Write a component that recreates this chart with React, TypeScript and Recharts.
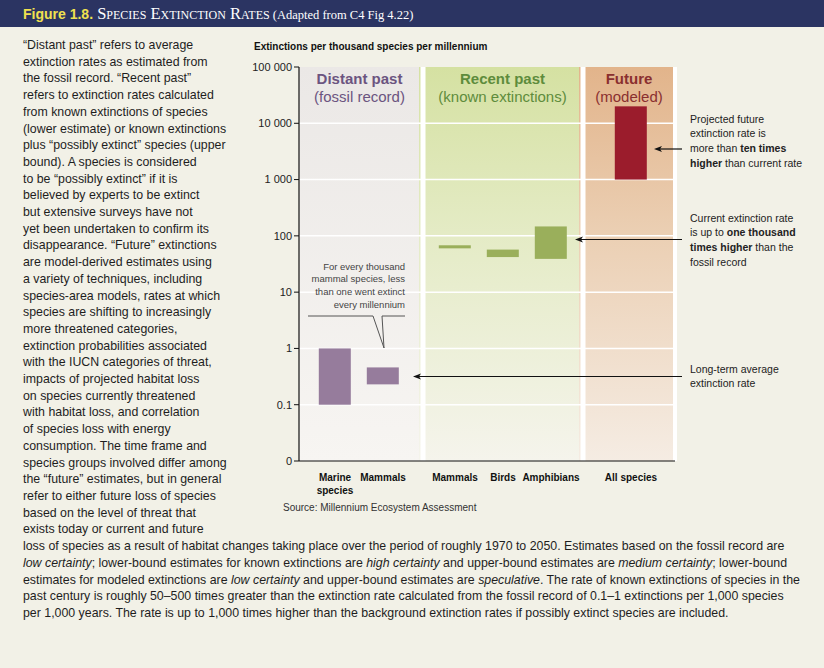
import React from 'react';
import { ComposedChart, Bar, Cell, XAxis, YAxis, ReferenceArea, ReferenceLine } from 'recharts';

// extinctions per thousand species per millennium, each bar spans [low, high]
const distantLabels = ['Marine\nspecies', 'Mammals'];
const distantLow = [0.1, 0.23];
const distantHigh = [1, 0.46];

const recentLabels = ['Mammals', 'Birds', 'Amphibians'];
const recentLow = [60, 42, 39];
const recentHigh = [68, 57, 147];

const futureLabels = ['All species'];
const futureLow = [1000];
const futureHigh = [20000];

const yTicks = [0.01, 0.1, 1, 10, 100, 1000, 10000, 100000];

const SANS = '"Liberation Sans", Arial, Helvetica, sans-serif';
const SERIF = '"Liberation Serif", "DejaVu Serif", serif';

const panels = [
  { key: 'distant', title: 'Distant past', sub: '(fossil record)', titleColor: '#6b5480', bar: '#967c9c', labels: distantLabels, low: distantLow, high: distantHigh },
  { key: 'recent', title: 'Recent past', sub: '(known extinctions)', titleColor: '#5e8c3c', bar: '#9aaf5b', labels: recentLabels, low: recentLow, high: recentHigh },
  { key: 'future', title: 'Future', sub: '(modeled)', titleColor: '#8a2f2f', bar: '#9b1c2c', labels: futureLabels, low: futureLow, high: futureHigh },
];

// each panel is cut in narrow category slots, bars sit in some of them, the rest are spacers
const panelSlots = [15, 20, 12];
const barSlots = [[4, 10], [4, 10, 16], [6]];

type Row = { id: string; label: string; range: number[] | null; fill: string };
const rows: Row[] = [];
const panelEnds: [string, string][] = [];
panels.forEach((p, pi) => {
  const start = rows.length;
  for (let s = 0; s < panelSlots[pi]; s++) {
    const bi = barSlots[pi].indexOf(s);
    rows.push({
      id: `${p.key}-${s}`,
      label: bi >= 0 ? p.labels[bi] : '',
      range: bi >= 0 ? [p.low[bi], p.high[bi]] : null,
      fill: p.bar,
    });
  }
  panelEnds.push([rows[start].id, rows[rows.length - 1].id]);
});

const fmtTick = (v: number) => (v < 0.1 ? '0' : String(v).replace(/\B(?=(\d{3})+(?!\d))/g, ' '));

const leftText = [
  '“Distant past” refers to average',
  'extinction rates as estimated from',
  'the fossil record. “Recent past”',
  'refers to extinction rates calculated',
  'from known extinctions of species',
  '(lower estimate) or known extinctions',
  'plus “possibly extinct” species (upper',
  'bound). A species is considered',
  'to be “possibly extinct” if it is',
  'believed by experts to be extinct',
  'but extensive surveys have not',
  'yet been undertaken to confirm its',
  'disappearance. “Future” extinctions',
  'are model-derived estimates using',
  'a variety of techniques, including',
  'species-area models, rates at which',
  'species are shifting to increasingly',
  'more threatened categories,',
  'extinction probabilities associated',
  'with the IUCN categories of threat,',
  'impacts of projected habitat loss',
  'on species currently threatened',
  'with habitat loss, and correlation',
  'of species loss with energy',
  'consumption. The time frame and',
  'species groups involved differ among',
  'the “future” estimates, but in general',
  'refer to either future loss of species',
  'based on the level of threat that',
  'exists today or current and future',
  'loss of species as a result of habitat changes taking place over the period of roughly 1970 to 2050. Estimates based on the fossil record are',
  '_low certainty_; lower-bound estimates for known extinctions are _high certainty_ and upper-bound estimates are _medium certainty_; lower-bound',
  'estimates for modeled extinctions are _low certainty_ and upper-bound estimates are _speculative_. The rate of known extinctions of species in the',
  'past century is roughly 50–500 times greater than the extinction rate calculated from the fossil record of 0.1–1 extinctions per 1,000 species',
  'per 1,000 years. The rate is up to 1,000 times higher than the background extinction rates if possibly extinct species are included.',
];

const notes = [
  { top: 111.5, lines: ['Projected future', 'extinction rate is', 'more than *ten times*', '*higher* than current rate'] },
  { top: 210.5, lines: ['Current extinction rate', 'is up to *one thousand*', '*times higher* than the', 'fossil record'] },
  { top: 361.5, lines: ['Long-term average', 'extinction rate'] },
];

const callout = ['For every thousand', 'mammal species, less', 'than one went extinct', 'every millennium'];

const marked = (line: string, mark: string, style: React.CSSProperties) =>
  line.split(mark).map((part, i) =>
    i % 2 ? <span key={i} style={style}>{part}</span> : <React.Fragment key={i}>{part}</React.Fragment>
  );

const PanelTitle = ({ viewBox, idx }: any) => {
  if (!viewBox) return null;
  const p = panels[idx];
  const left = viewBox.x + (idx > 0 ? 6 : 0);
  const right = viewBox.x + viewBox.width - (idx === panels.length - 1 ? 2 : -1);
  const cx = (left + right) / 2;
  return (
    <g fill={p.titleColor} fontFamily={SANS} fontSize={15} textAnchor="middle">
      <text x={cx} y={viewBox.y + 16.5} fontWeight="bold">{p.title}</text>
      <text x={cx} y={viewBox.y + 34.5}>{p.sub}</text>
    </g>
  );
};

const CategoryTick = ({ x, y, payload }: any) => {
  const row = rows.find((r) => r.id === payload.value);
  if (!row || !row.label) return null;
  return (
    <text x={x} y={y} textAnchor="middle" fontSize={10} fontWeight="bold" fill="#111" fontFamily={SANS}>
      {row.label.split('\n').map((w, i) => (
        <tspan key={i} x={x} dy={i === 0 ? 20 : 12.5}>{w}</tspan>
      ))}
    </text>
  );
};

const WideBar = (props: any) => {
  const { x, y, width, height, fill } = props;
  if (!height) return null;
  const top = Math.min(y, y + height);
  return <rect x={x + width / 2 - 16} y={top} width={32} height={Math.abs(height)} fill={fill} />;
};

const Arrow = ({ y, from, to }: { y: number; from: number; to: number }) => (
  <g>
    <line x1={from} y1={y} x2={to + 6} y2={y} stroke="#111" strokeWidth={1.2} />
    <path d={`M${to},${y} L${to + 8},${y - 3} L${to + 6},${y} L${to + 8},${y + 3} Z`} fill="#111" />
  </g>
);

export default function App() {
  return (
    <div style={{ position: 'absolute', left: 0, top: 0, width: 824, height: 668, background: '#f2f1e7', overflow: 'hidden', fontFamily: SANS }}>
      <div style={{ position: 'absolute', left: 0, top: 0, width: 824, height: 27, lineHeight: '27px', background: '#2b3462', paddingLeft: 23, whiteSpace: 'nowrap', boxSizing: 'border-box' }}>
        <span style={{ fontFamily: SANS, fontWeight: 'bold', fontSize: 14, color: '#f0e14f' }}>Figure 1.8.</span>
        <span style={{ fontFamily: SERIF, fontSize: 16.5, color: '#fff', fontVariant: 'small-caps' }}> Species Extinction Rates</span>
        <span style={{ fontFamily: SERIF, fontSize: 12.5, color: '#fff' }}> (Adapted from C4 Fig 4.22)</span>
      </div>

      <div style={{ position: 'absolute', left: 23, top: 37, fontFamily: SANS, fontSize: 13, lineHeight: '16.7px', color: '#1e1e1e', whiteSpace: 'pre', transform: 'scaleX(0.95)', transformOrigin: '0 0' }}>
        {leftText.map((l, i) => (
          <div key={i}>{marked(l, '_', { fontStyle: 'italic' })}</div>
        ))}
      </div>

      <div style={{ position: 'absolute', left: 254, top: 41, fontSize: 10, lineHeight: '12px', fontWeight: 'bold', color: '#111' }}>
        Extinctions per thousand species per millennium
      </div>

      <div style={{ position: 'absolute', left: 240, top: 0 }}>
        <ComposedChart width={450} height={520} data={rows} margin={{ top: 67, right: 15, bottom: 19, left: 0 }}>
          <defs>
            <linearGradient id="gDistant" x1="0" y1="0" x2="0" y2="1">
              <stop offset="0%" stopColor="#ebe8e6" />
              <stop offset="100%" stopColor="#f7f5f2" />
            </linearGradient>
            <linearGradient id="gRecent" x1="0" y1="0" x2="0" y2="1">
              <stop offset="0%" stopColor="#d5e1a2" />
              <stop offset="42%" stopColor="#e4ebc5" />
              <stop offset="100%" stopColor="#f5f4ec" />
            </linearGradient>
            <linearGradient id="gFuture" x1="0" y1="0" x2="0" y2="1">
              <stop offset="0%" stopColor="#e2b48b" />
              <stop offset="42%" stopColor="#ebcfb3" />
              <stop offset="100%" stopColor="#f5ece3" />
            </linearGradient>
          </defs>
          <XAxis
            dataKey="id"
            interval={0}
            height={40}
            tickLine={false}
            tickSize={0}
            tickMargin={0}
            axisLine={{ stroke: '#111', strokeWidth: 1.2 }}
            tick={(p: any) => <CategoryTick {...p} />}
          />
          <YAxis
            scale="log"
            domain={[0.01, 100000]}
            ticks={yTicks}
            allowDataOverflow
            width={59}
            tickSize={5}
            tickFormatter={fmtTick}
            axisLine={{ stroke: '#111', strokeWidth: 1.2 }}
            tickLine={{ stroke: '#111' }}
            tick={{ fill: '#222', fontSize: 11, fontFamily: SANS }}
          />
          {panels.map((p, i) => (
            <ReferenceArea
              key={p.key}
              x1={panelEnds[i][0]}
              x2={panelEnds[i][1]}
              fill={`url(#g${p.key[0].toUpperCase()}${p.key.slice(1)})`}
              fillOpacity={1}
              stroke="none"
              zIndex={100}
              label={(lp: any) => <PanelTitle {...lp} idx={i} />}
            />
          ))}
          {yTicks.slice(1, -1).map((v) => (
            <ReferenceLine key={v} y={v} stroke="#fff" strokeWidth={1.5} zIndex={150} />
          ))}
          <ReferenceLine x={panelEnds[1][0]} stroke="#fff" strokeWidth={5} zIndex={160} />
          <ReferenceLine x={panelEnds[2][0]} stroke="#fff" strokeWidth={5} zIndex={160} />
          <ReferenceLine x={panelEnds[2][1]} position="end" stroke="#fff" strokeWidth={4} zIndex={160} />
          <Bar dataKey="range" isAnimationActive={false} shape={WideBar} zIndex={300}>
            {rows.map((r) => (
              <Cell key={r.id} fill={r.fill} />
            ))}
          </Bar>
        </ComposedChart>
      </div>

      <div style={{ position: 'absolute', left: 283, top: 502, fontSize: 10, lineHeight: '12px', color: '#333' }}>
        Source: Millennium Ecosystem Assessment
      </div>

      <div style={{ position: 'absolute', left: 300, top: 260.5, width: 105, textAlign: 'right', fontSize: 9.5, lineHeight: '12.7px', color: '#444', whiteSpace: 'nowrap' }}>
        {callout.map((l, i) => (
          <div key={i}>{l}</div>
        ))}
      </div>

      {notes.map((n, i) => (
        <div key={i} style={{ position: 'absolute', left: 690, top: n.top, fontSize: 10.5, lineHeight: '14.7px', color: '#222', whiteSpace: 'nowrap' }}>
          {n.lines.map((l, j) => (
            <div key={j}>{marked(l, '*', { fontWeight: 'bold' })}</div>
          ))}
        </div>
      ))}

      <svg width={824} height={668} style={{ position: 'absolute', left: 0, top: 0, pointerEvents: 'none' }}>
        <polyline points="308,316 373,316 384,348 382,316 405,316" fill="none" stroke="#555" strokeWidth={1} />
        <Arrow y={149} from={682} to={654} />
        <Arrow y={239.5} from={682} to={575} />
        <Arrow y={376.5} from={682} to={413} />
      </svg>
    </div>
  );
}
